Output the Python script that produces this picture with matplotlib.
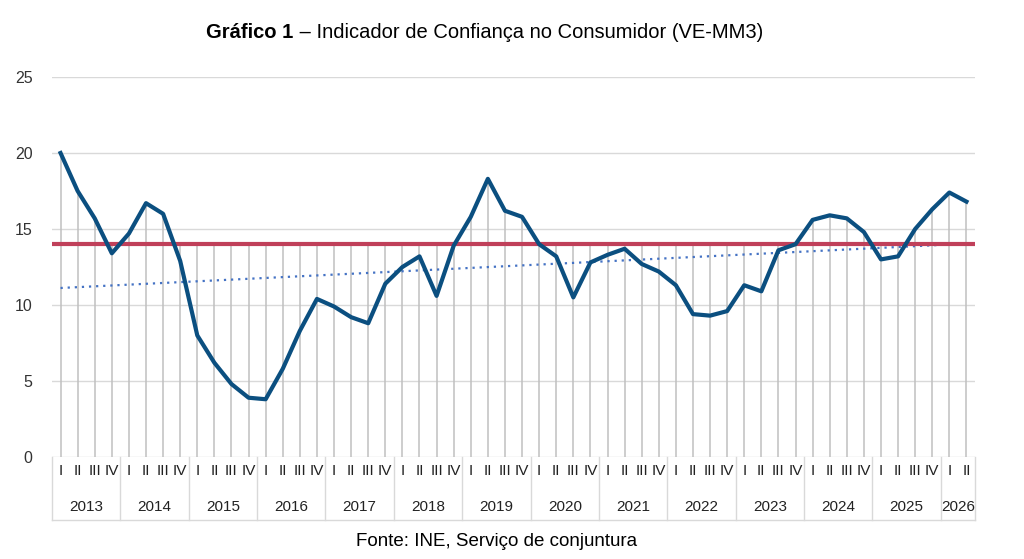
import matplotlib
matplotlib.use("Agg")
import matplotlib.pyplot as plt
import numpy as np

plt.rcParams['font.family'] = ['Liberation Sans', 'DejaVu Sans']

years = [str(y) for y in range(2013, 2027)]
quarters = ["I", "II", "III", "IV"]
values = [20.0, 17.5, 15.7, 13.4,
          14.7, 16.7, 16.0, 12.9,
          8.0, 6.2, 4.8, 3.9,
          3.8, 5.8, 8.3, 10.4,
          9.9, 9.2, 8.8, 11.4,
          12.5, 13.2, 10.6, 13.9,
          15.8, 18.3, 16.2, 15.8,
          14.0, 13.2, 10.5, 12.8,
          13.3, 13.7, 12.7, 12.2,
          11.3, 9.4, 9.3, 9.6,
          11.3, 10.9, 13.6, 14.0,
          15.6, 15.9, 15.7, 14.8,
          13.0, 13.2, 15.0, 16.3,
          17.4, 16.8]
average = 14.0

n = len(values)
x = np.arange(n)
v = np.array(values)

fig = plt.figure(figsize=(10.24, 5.59), dpi=100)
ax = fig.add_axes([52/1024, 1-457/559, 923/1024, 380/559])
ax.set_xlim(-0.5, n-0.5)
ax.set_ylim(0, 25)
for yv in range(0, 26, 5):
    ax.axhline(yv, color='#d9d9d9', lw=1, zorder=0)
ax.vlines(x, 0, np.maximum(v, average), color='#c0c0c0', lw=1.1, zorder=1)
ax.axhline(average, color='#c0405a', lw=3, zorder=3)
coef = np.polyfit(x, v, 1)
ax.plot(x, np.polyval(coef, x), color='#4472c4', lw=1.6, ls=(0, (1, 2.2)), zorder=2)
ax.plot(x, v, color='#0b4f80', lw=3, zorder=4, solid_joinstyle='round')

for s in ax.spines.values():
    s.set_visible(False)
ax.set_xticks([])
ax.set_yticks(range(0, 26, 5))
ax.tick_params(axis='y', length=0, labelsize=11.5, pad=14, colors='#333333')

tr = ax.get_xaxis_transform()
ylow = -(520-457)/380
for i in range(n):
    ax.text(x[i], -(470-457)/380 - 0.003, quarters[i % 4], transform=tr, ha='center', va='center',
            fontsize=11, color='#222222')
for k, yr in enumerate(years):
    start = k*4 - 0.5
    end = min(k*4 + 3.5, n - 0.5)
    ax.text((start+end)/2, -(507-457)/380, yr, transform=tr, ha='center', va='center',
            fontsize=11, color='#222222')
    ax.plot([start, start], [0, ylow], transform=tr, color='#d9d9d9', lw=1, clip_on=False)
ax.plot([n-0.5, n-0.5], [0, ylow], transform=tr, color='#d9d9d9', lw=1, clip_on=False)
ax.plot([-0.5, n-0.5], [ylow, ylow], transform=tr, color='#d9d9d9', lw=1, clip_on=False)

fig.text(293/1024, 1-32/559, "Gráfico 1", ha='right', va='center', fontsize=14.5, fontweight='bold')
fig.text(294/1024, 1-32/559, " – Indicador de Confiança no Consumidor (VE-MM3)", ha='left', va='center', fontsize=14.5)
fig.text(497/1024, 1-541/559, "Fonte: INE, Serviço de conjuntura", ha='center', va='center', fontsize=13.5)

fig.savefig("out.png", dpi=100)
